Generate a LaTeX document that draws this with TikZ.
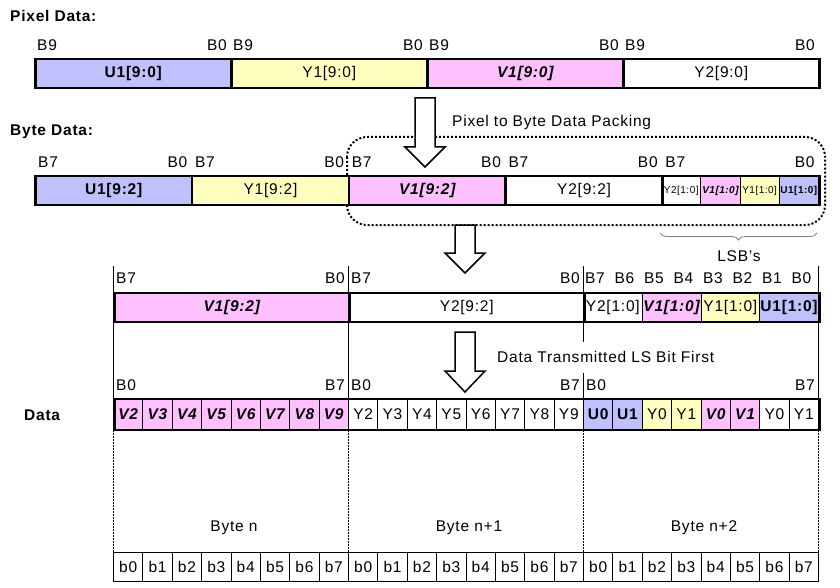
\documentclass[tikz,border=0pt]{standalone}
\usepackage{fontspec}
\setmainfont{Liberation Sans}[LetterSpace=5]
\usetikzlibrary{decorations.pathreplacing}
\definecolor{ublue}{RGB}{192,192,255}
\definecolor{yyel}{RGB}{255,255,192}
\definecolor{vpink}{RGB}{255,192,255}
\begin{document}
\begin{tikzpicture}[x=1pt,y=-1pt,
  txt/.style={font=\fontsize{15.5}{18}\selectfont, inner sep=0pt},
  lbl/.style={txt},
  thickcell/.style={txt, draw, line width=2.6pt, minimum height=29pt, anchor=west},
  thincell/.style={txt, draw, line width=0.9pt, minimum height=29pt, anchor=west},
  smallcell/.style={thincell, font=\fontsize{10}{12}\selectfont},
  uc/.style={fill=ublue, font=\fontsize{15.5}{18}\selectfont\bfseries},
  yc/.style={fill=yyel},
  yw/.style={fill=white},
  vc/.style={fill=vpink, font=\fontsize{15.5}{18}\selectfont\bfseries\itshape},
  hollow/.style={draw, fill=white, line width=1.5pt, line join=miter},
  guide/.style={line width=0.9pt},
  dotguide/.style={line width=0.9pt, dash pattern=on 1.5pt off 1.5pt},
  pack/.style={line width=2pt, dash pattern=on 2pt off 2pt, rounded corners=20pt},
]
\useasboundingbox (0,0) rectangle (840,588);

% ---------- headings ----------
\node[lbl, anchor=west] (h1) at (10,16) {\bfseries Pixel Data:};
\node[lbl, anchor=west] (h2) at (10,132) {\bfseries Byte Data:};
\node[lbl, anchor=west] (h3) at (24,415) {\bfseries Data};

% ---------- guides ----------
\foreach \x [count=\i] in {113,348,583,818} {
  \draw[guide] (\x,266) -- (\x,399);
  \draw[dotguide] (\x,430) -- (\x,552);
}

% ---------- packing outline ----------
\draw[pack] (347,137) rectangle (825,225);

% ---------- row 1: pixel data ----------
\node[thickcell, fill=ublue, minimum width=196pt] (p1) at (34,73.5) {\bfseries U1[9:0]};
\node[thickcell, fill=yyel, minimum width=196pt] (p2) at (230,73.5) {Y1[9:0]};
\node[thickcell, fill=vpink, minimum width=196pt] (p3) at (426,73.5) {\bfseries\itshape V1[9:0]};
\node[thickcell, fill=white, minimum width=196pt] (p4) at (622,73.5) {Y2[9:0]};
\foreach \x [count=\i] in {34,230,426,622} {
  \node[lbl, anchor=west] (pl\i) at (\x+3,45) {B9};
  \node[lbl, anchor=east] (pr\i) at (\x+193,45) {B0};
}

% ---------- row 2: byte data ----------
\node[thickcell, fill=ublue, minimum width=156.8pt] (b1) at (34,190.5) {\bfseries U1[9:2]};
\node[thickcell, fill=yyel, minimum width=156.8pt] (b2) at (190.8,190.5) {Y1[9:2]};
\node[thickcell, fill=vpink, minimum width=156.8pt] (b3) at (347.6,190.5) {\bfseries\itshape V1[9:2]};
\node[thickcell, fill=white, minimum width=156.8pt] (b4) at (504.4,190.5) {Y2[9:2]};
\node[smallcell, fill=white, minimum width=39.2pt] (s1) at (661.2,190.5) {Y2[1:0]};
\node[smallcell, fill=vpink, minimum width=39.2pt] (s2) at (700.4,190.5) {\bfseries\itshape V1[1:0]};
\node[smallcell, fill=yyel, minimum width=39.2pt] (s3) at (739.6,190.5) {Y1[1:0]};
\node[smallcell, fill=ublue, minimum width=39.2pt] (s4) at (778.8,190.5) {\bfseries U1[1:0]};
\node[thickcell, minimum width=156.8pt] (b5) at (661.2,190.5) {};
\foreach \x [count=\i] in {34,190.8,347.6,504.4,661.2} {
  \node[lbl, anchor=west] (bl\i) at (\x+4,162) {B7};
  \node[lbl, anchor=east] (br\i) at (\x+153.5,162) {B0};
}
\node[lbl, anchor=west] (pk) at (452,122) {Pixel to Byte Data Packing};
\draw[gray, line width=0.8pt, decorate, decoration={brace, amplitude=7pt, mirror}] (660,233) -- (817,233);
\node[lbl] (lsb) at (739,256) {LSB’s};

% ---------- row 3 ----------
\node[thickcell, fill=vpink, minimum width=235pt] (c1) at (113,307.5) {\bfseries\itshape V1[9:2]};
\node[thickcell, fill=white, minimum width=235pt] (c2) at (348,307.5) {Y2[9:2]};
\node[thincell, yw, minimum width=58.75pt] (t1) at (583,307.5) {Y2[1:0]};
\node[thincell, vc, minimum width=58.75pt] (t2) at (641.75,307.5) {V1[1:0]};
\node[thincell, yc, minimum width=58.75pt] (t3) at (700.5,307.5) {Y1[1:0]};
\node[thincell, uc, minimum width=58.75pt] (t4) at (759.25,307.5) {U1[1:0]};
\node[thickcell, minimum width=235pt] (c3) at (583,307.5) {};
\node[lbl, anchor=west] (cl1) at (116,278) {B7};
\node[lbl, anchor=east] (cr1) at (345,278) {B0};
\node[lbl, anchor=west] (cl2) at (351,278) {B7};
\node[lbl, anchor=east] (cr2) at (580,278) {B0};
\foreach \b [count=\i from 0] in {B7,B6,B5,B4,B3,B2,B1,B0} {
  \node[lbl] (cb\i) at (595+29.5*\i,278) {\b};
}

\node[lbl, anchor=west, fill=white, minimum height=31pt, inner xsep=3pt] (dt) at (494,357) {Data Transmitted LS Bit First};

% ---------- data row ----------
\foreach \t/\k [count=\i from 0] in {V2/vc,V3/vc,V4/vc,V5/vc,V6/vc,V7/vc,V8/vc,V9/vc,
  Y2/yw,Y3/yw,Y4/yw,Y5/yw,Y6/yw,Y7/yw,Y8/yw,Y9/yw,
  U0/uc,U1/uc,Y0/yc,Y1/yc,V0/vc,V1/vc,Y0/yw,Y1/yw} {
  \node[thincell, \k, minimum height=31pt, minimum width=29.375pt] (d\i) at (113+29.375*\i,414.5) {\t};
}
\node[draw, line width=2.6pt, minimum width=705pt, minimum height=31pt, anchor=west, inner sep=0pt] (dall) at (113,414.5) {};
\foreach \x [count=\i] in {113,348,583} {
  \node[lbl, anchor=west] (dl\i) at (\x+3,385) {B0};
  \node[lbl, anchor=east] (dr\i) at (\x+232,385) {B7};
}

% ---------- byte labels and bit row ----------
\node[lbl] (n1) at (234,528) {Byte n};
\node[lbl] (n2) at (469,528) {Byte n+1};
\node[lbl] (n3) at (704,528) {Byte n+2};
\foreach \j in {0,1,2} {
  \foreach \b in {0,...,7} {
    \node[thincell, minimum width=29.375pt] (e\j\b) at (113+235*\j+29.375*\b,566.5) {b\b};
  }
}

% ---------- hollow arrows ----------
\draw[hollow] (415,98) -- (435,98) -- (435,147) -- (445,147) -- (425,167) -- (405,147) -- (415,147) -- cycle;
\draw[hollow] (455,225) -- (475,225) -- (475,253) -- (485,253) -- (465,273) -- (445,253) -- (455,253) -- cycle;
\draw[hollow] (455,332) -- (475,332) -- (475,371) -- (485,371) -- (465,392) -- (445,371) -- (455,371) -- cycle;
\end{tikzpicture}
\end{document}
